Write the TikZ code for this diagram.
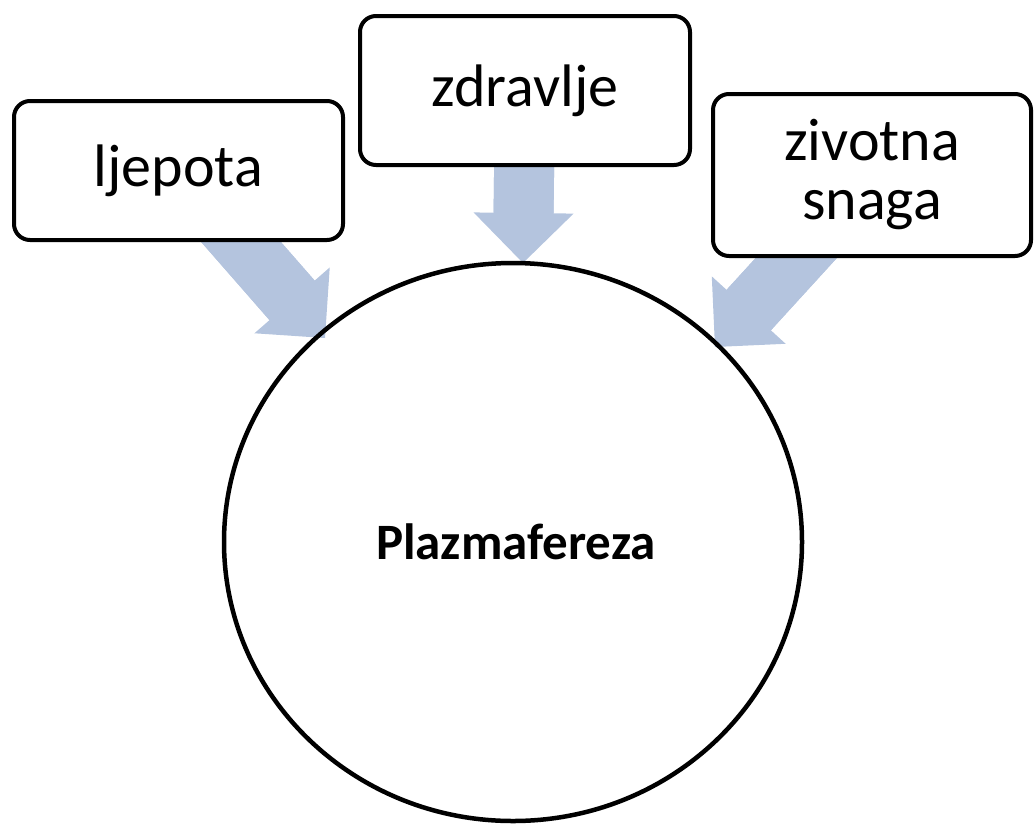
\documentclass[tikz,border=0pt]{standalone}
\usepackage{fontspec}
\setmainfont{Carlito}
\usetikzlibrary{shapes.geometric,arrows.meta,backgrounds}
\definecolor{arrowblue}{RGB}{180,196,222}
\begin{document}
\begin{tikzpicture}[x=1pt,y=-1pt,
  box/.style={draw, line width=4pt, rounded corners=16pt, fill=white, align=center, inner sep=0pt, font=\fontsize{60}{59}\selectfont},
  bigarrow/.style={draw=arrowblue, line width=60pt, -{Triangle[width=100pt,length=50pt,line width=0pt]}},
  shaftfill/.style={draw=arrowblue, line width=60pt, shorten >=38pt}]
\useasboundingbox (0,0) rectangle (1035,825);
\node[box, minimum width=329pt, minimum height=139pt] (b1) at (178.5,170.5) {ljepota};
\node[box, minimum width=330pt, minimum height=149pt] (b2) at (525,90.5) {zdravlje};
\node[box, minimum width=318pt, minimum height=162pt] (b3) at (872,175) {zivotna\\snaga};
\node[draw, ellipse, line width=4.5pt, minimum width=578pt, minimum height=558pt, inner sep=0pt, font=\fontsize{51}{51}\selectfont\bfseries] (c) at (513,542) {\hspace*{6pt}Plazmafereza};
\coordinate (t1) at (325,338);
\coordinate (t2) at (523,263);
\coordinate (t3) at (715,347);
\begin{scope}[on background layer]
\draw[bigarrow] (b1.center) -- (t1);
\draw[shaftfill] (b1.center) -- (t1);
\draw[bigarrow] (b2.center) -- (t2);
\draw[shaftfill] (b2.center) -- (t2);
\draw[bigarrow] (b3.center) -- (t3);
\draw[shaftfill] (b3.center) -- (t3);
\end{scope}
\end{tikzpicture}
\end{document}
